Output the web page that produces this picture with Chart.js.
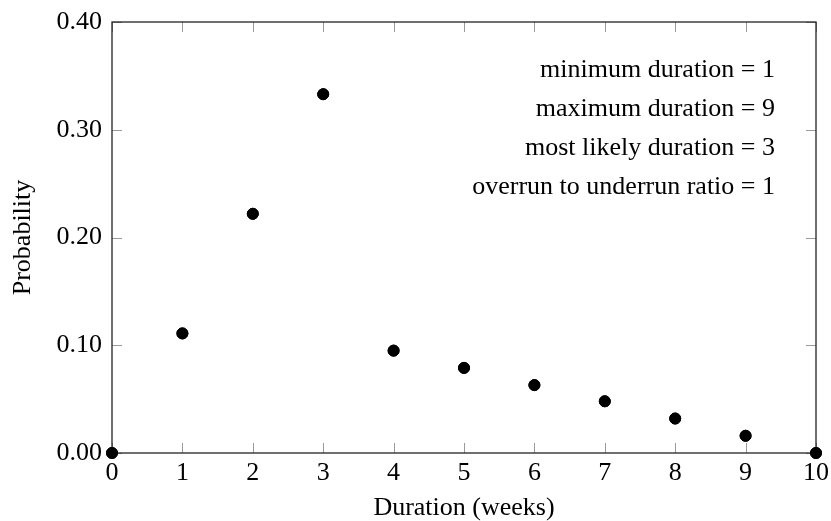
<!DOCTYPE html>
<html>
<head>
<meta charset="utf-8">
<script src="https://cdn.jsdelivr.net/npm/chart.js@4/dist/chart.umd.min.js"></script>
<style>
html,body{margin:0;padding:0;background:#fff;}
#wrap{width:831px;height:521px;position:relative;}
</style>
</head>
<body>
<div id="wrap"><canvas id="c" width="831" height="521"></canvas></div>
<script>
const durations = [0, 1, 2, 3, 4, 5, 6, 7, 8, 9, 10];
const probabilities = [0, 0.111, 0.222, 0.333, 0.095, 0.079, 0.063, 0.048, 0.032, 0.016, 0];
const xTicks = [0, 1, 2, 3, 4, 5, 6, 7, 8, 9, 10];
const yTicks = [0, 0.1, 0.2, 0.3, 0.4];
const annotationLines = [
  "minimum duration = 1",
  "maximum duration = 9",
  "most likely duration = 3",
  "overrun to underrun ratio = 1"
];
const xTitle = "Duration (weeks)";
const yTitle = "Probability";

const FONT = "'Liberation Serif', 'Times New Roman', serif";

const boxPlugin = {
  id: 'box',
  afterDatasetsDraw(chart) {
    const ctx = chart.ctx;
    const a = chart.chartArea;
    const xs = chart.scales.x, ys = chart.scales.y;
    ctx.save();
    ctx.strokeStyle = '#9a9a9a';
    ctx.lineWidth = 1;
    const L = 10;
    xTicks.forEach(v => {
      const px = Math.round(xs.getPixelForValue(v)) + 0.5;
      ctx.beginPath();
      ctx.moveTo(px, a.bottom); ctx.lineTo(px, a.bottom - L);
      ctx.moveTo(px, a.top); ctx.lineTo(px, a.top + L);
      ctx.stroke();
    });
    yTicks.forEach(v => {
      const py = Math.round(ys.getPixelForValue(v)) + 0.5;
      ctx.beginPath();
      ctx.moveTo(a.left, py); ctx.lineTo(a.left + L, py);
      ctx.moveTo(a.right, py); ctx.lineTo(a.right - L, py);
      ctx.stroke();
    });
    ctx.strokeStyle = '#222';
    ctx.lineWidth = 1.3;
    ctx.strokeRect(a.left, a.top, a.right - a.left, a.bottom - a.top);
    ctx.restore();
    const meta = chart.getDatasetMeta(0);
    meta.data.forEach(el => el.draw(ctx, a));
    ctx.save();
    ctx.fillStyle = '#000';
    ctx.font = '26px ' + FONT;
    ctx.textAlign = 'right';
    ctx.textBaseline = 'middle';
    annotationLines.forEach((t, i) => {
      ctx.fillText(t, a.right - 41, a.top + 48 + i * 39);
    });
    ctx.restore();
  }
};

new Chart(document.getElementById('c'), {
  type: 'scatter',
  data: {
    datasets: [{
      data: durations.map((d, i) => ({x: d, y: probabilities[i]})),
      backgroundColor: '#000',
      borderColor: '#000',
      pointRadius: 5.5,
      pointHoverRadius: 5.5,
      clip: false
    }]
  },
  options: {
    responsive: false,
    animation: false,
    events: [],
    layout: {padding: {top: 22, right: 15, left: 0, bottom: 0}},
    plugins: {legend: {display: false}, tooltip: {enabled: false}},
    scales: {
      x: {
        type: 'linear', min: 0, max: 10,
        afterBuildTicks: s => { s.ticks = xTicks.map(v => ({value: v})); },
        afterFit: s => { s.height = 68; s.paddingLeft = 0; s.paddingRight = 0; },
        grid: {display: false, drawTicks: false},
        border: {display: false},
        ticks: {color: '#000', font: {family: FONT, size: 26, lineHeight: 1.1}, padding: 6, maxRotation: 0},
        title: {display: true, text: xTitle, color: '#000', font: {family: FONT, size: 26, lineHeight: 0.95}, padding: 0}
      },
      y: {
        type: 'linear', min: 0, max: 0.4,
        afterBuildTicks: s => { s.ticks = yTicks.map(v => ({value: v})); },
        afterFit: s => { s.width = 112; s.paddingTop = 0; s.paddingBottom = 0; },
        grid: {display: false, drawTicks: false},
        border: {display: false},
        ticks: {color: '#000', font: {family: FONT, size: 26}, padding: 10,
          callback: v => v.toFixed(2)},
        title: {display: true, text: yTitle, color: '#000', font: {family: FONT, size: 26, lineHeight: 1.77}, padding: 0}
      }
    }
  },
  plugins: [boxPlugin]
});
</script>
</body>
</html>
